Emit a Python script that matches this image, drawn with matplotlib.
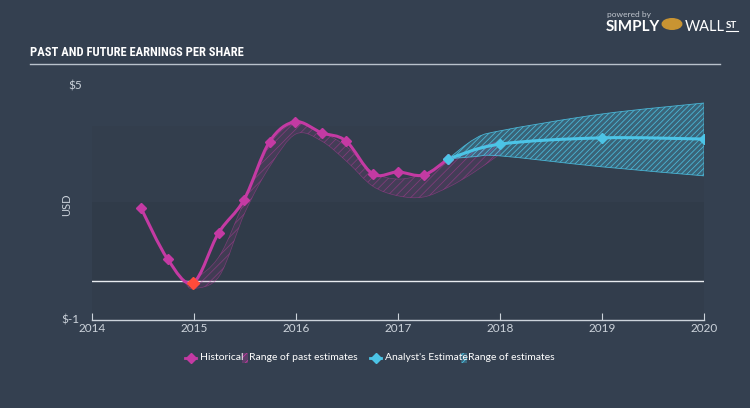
import numpy as np
import matplotlib
matplotlib.use("Agg")
import matplotlib.pyplot as plt
from matplotlib.path import Path
from matplotlib.patches import PathPatch

# Historical EPS (quarterly)
hist_x = [2014.48, 2014.74, 2014.99, 2015.24, 2015.49, 2015.74, 2015.99,
          2016.25, 2016.49, 2016.75, 2017.0, 2017.25, 2017.49]
hist_y = [1.86, 0.56, -0.05, 1.22, 2.07, 3.55, 4.06,
          3.78, 3.57, 2.73, 2.78, 2.70, 3.11]

# Analyst estimates
est_x = [2017.49, 2018.0, 2019.0, 2020.0]
est_y = [3.11, 3.49, 3.65, 3.62]

# Range of estimates
rng_x = [2017.49, 2017.75, 2018.0, 2019.0, 2020.0]
rng_hi = [3.11, 3.62, 3.83, 4.26, 4.54]
rng_lo = [3.11, 3.17, 3.19, 2.91, 2.68]

# Range of past estimates
past_x = [2014.92, 2015.0, 2015.25, 2015.5, 2015.75, 2016.0, 2016.25,
          2016.5, 2016.75, 2017.0, 2017.25, 2017.5, 2017.75, 2018.0]
past_hi = [0.0, 0.02, 0.64, 2.07, 3.5, 4.03, 3.8,
           3.42, 2.78, 2.6, 2.73, 3.04, 3.37, 3.57]
past_lo = [-0.08, -0.2, 0.13, 1.75, 2.95, 3.75, 3.57,
           3.04, 2.42, 2.17, 2.14, 2.4, 2.78, 3.24]

x_ticks = [2014, 2015, 2016, 2017, 2018, 2019, 2020]

BG = "#344050"
PINK = "#c43aa3"
CYAN = "#4cc4e6"
GREY = "#ccd3db"
FONT = ["Lato", "DejaVu Sans"]
TITLE_FONT = ["Roboto Condensed", "DejaVu Sans Condensed", "Liberation Sans Narrow",
              "Lato", "DejaVu Sans"]


def smooth_verts(xs, ys):
    # catmull-rom style bezier control points
    pts = np.column_stack([xs, ys])
    verts = [tuple(pts[0])]
    codes = [Path.MOVETO]
    n = len(pts)
    for i in range(n - 1):
        p0 = pts[max(i - 1, 0)]
        p1 = pts[i]
        p2 = pts[i + 1]
        p3 = pts[min(i + 2, n - 1)]
        c1 = p1 + (p2 - p0) / 6.0
        c2 = p2 - (p3 - p1) / 6.0
        verts += [tuple(c1), tuple(c2), tuple(p2)]
        codes += [Path.CURVE4] * 3
    return verts, codes


def smooth_line(ax, xs, ys, **kw):
    v, c = smooth_verts(xs, ys)
    ax.add_patch(PathPatch(Path(v, c), fill=False, **kw))


def smooth_band(ax, xs, hi, lo, **kw):
    v1, c1 = smooth_verts(xs, hi)
    v2, c2 = smooth_verts(xs[::-1], lo[::-1])
    c2 = [Path.LINETO] + c2[1:]
    verts = v1 + v2 + [v1[0]]
    codes = c1 + c2 + [Path.CLOSEPOLY]
    ax.add_patch(PathPatch(Path(verts, codes), **kw))


plt.rcParams["font.family"] = FONT
plt.rcParams["hatch.linewidth"] = 0.6

fig = plt.figure(figsize=(7.5, 4.08), dpi=100, facecolor=BG)
ax = fig.add_axes([0.1227, 0.2157, 0.816, 0.576])
ax.set_facecolor(BG)
ax.set_xlim(2014, 2020)
ax.set_ylim(-1, 5)

# subtle background bands
ax.axhspan(-1, 0, color="#323d4c", zorder=0, lw=0)
ax.axhspan(0, 2.0, color="#303b49", zorder=0, lw=0)
ax.axhspan(2.0, 3.95, color="#333e4d", zorder=0, lw=0)

ax.axhline(0, color="#e8ecf0", lw=1.0, zorder=1)

# bands
smooth_band(ax, past_x, past_hi, past_lo, facecolor=(0.77, 0.23, 0.64, 0.12),
            edgecolor=(0.77, 0.23, 0.64, 0.45), hatch="////", lw=0.5, zorder=2)
smooth_band(ax, rng_x, rng_hi, rng_lo, facecolor=(0.3, 0.77, 0.9, 0.28),
            edgecolor=(0.3, 0.77, 0.9, 0.85), hatch="//////", lw=0.6, zorder=2)

# lines
smooth_line(ax, hist_x, hist_y, edgecolor=PINK, lw=2.2, zorder=3)
ax.plot(hist_x, hist_y, ls="none", marker="D", ms=5, color=PINK, zorder=4)
min_i = int(np.argmin(hist_y))
ax.plot(hist_x[min_i], hist_y[min_i], marker="D", ms=6, color="#ff4b3a", zorder=5)

smooth_line(ax, est_x, est_y, edgecolor=CYAN, lw=2.2, zorder=3)
ax.plot(est_x, est_y, ls="none", marker="D", ms=5, color=CYAN, zorder=4)

# axes styling
for s in ["top", "right", "left"]:
    ax.spines[s].set_visible(False)
ax.spines["bottom"].set_color(GREY)
ax.spines["bottom"].set_linewidth(1.0)
ax.set_xticks(x_ticks)
ax.set_xticklabels([str(t) for t in x_ticks])
ax.tick_params(axis="x", direction="in", length=5, color=GREY, labelcolor=GREY,
               labelsize=8.5, pad=2)
ax.set_yticks([])

fig.text(75 / 750, 1 - 86 / 408, "$5", color=GREY, fontsize=8.5, ha="center", va="center")
fig.text(70 / 750, 1 - 320 / 408, "$-1", color=GREY, fontsize=8.5, ha="center", va="center")
fig.text(67 / 750, 1 - 205 / 408, "USD", color=GREY, fontsize=8, rotation=90,
         ha="center", va="center")

# title
fig.text(30 / 750, 1 - 53 / 408, "PAST AND FUTURE EARNINGS PER SHARE", color="white",
         fontsize=9, fontweight="bold", family=TITLE_FONT,
         ha="left", va="center")
fig.add_artist(plt.Line2D([30 / 750, 720 / 750], [1 - 64 / 408, 1 - 64 / 408],
                          color="#b9c2cc", lw=1.0))

# logo
fig.text(607 / 750, 1 - 14 / 408, "powered by", color="#c0c6ce", fontsize=6,
         ha="left", va="center")
fig.text(606 / 750, 1 - 27 / 408, "SIMPLY", color="white", fontsize=11,
         fontweight="bold", ha="left", va="center")
fig.text(685 / 750, 1 - 27 / 408, "WALL", color="white", fontsize=10.5,
         ha="left", va="center")
fig.text(726 / 750, 1 - 26 / 408, "ST", color="white", fontsize=7,
         fontweight="bold", ha="left", va="center")
fig.add_artist(plt.Line2D([726 / 750, 738 / 750], [1 - 31 / 408, 1 - 31 / 408],
                          color="white", lw=0.8))
fig.add_artist(plt.Circle((672 / 750, 1 - 24 / 408), 0.013, color="#c99432",
                          transform=fig.transFigure))

# legend
ly = 1 - 358 / 408
fig.add_artist(plt.Line2D([185 / 750, 196 / 750], [ly, ly], color=PINK, lw=2))
fig.add_artist(plt.Line2D([190.5 / 750], [ly], color=PINK, marker="D", ms=5))
fig.text(200 / 750, ly, "Historical", color="white", fontsize=7.5, ha="left", va="center")
fig.add_artist(plt.Rectangle((242 / 750, ly - 0.012), 0.008, 0.024,
                             facecolor=(0.77, 0.23, 0.64, 0.3), edgecolor=PINK,
                             hatch="////", lw=0, transform=fig.transFigure))
fig.text(249 / 750, ly, "Range of past estimates", color="white", fontsize=7.5,
         ha="left", va="center")
fig.add_artist(plt.Line2D([370 / 750, 381 / 750], [ly, ly], color=CYAN, lw=2))
fig.add_artist(plt.Line2D([375.5 / 750], [ly], color=CYAN, marker="D", ms=5))
fig.text(385 / 750, ly, "Analyst's Estimate", color="white", fontsize=7.5,
         ha="left", va="center")
fig.add_artist(plt.Rectangle((461 / 750, ly - 0.012), 0.008, 0.024,
                             facecolor=(0.3, 0.77, 0.9, 0.3), edgecolor=CYAN,
                             hatch="////", lw=0, transform=fig.transFigure))
fig.text(468 / 750, ly, "Range of estimates", color="white", fontsize=7.5,
         ha="left", va="center")

fig.savefig("out.png", dpi=100, facecolor=BG)
